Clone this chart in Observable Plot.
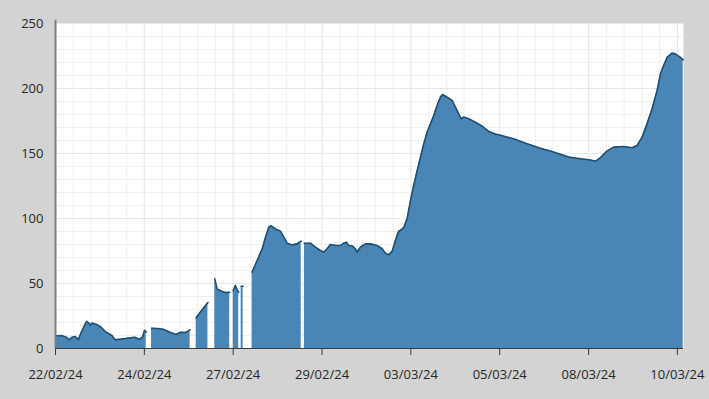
<!DOCTYPE html>
<html>
<head>
<meta charset="utf-8">
<script src="https://cdn.jsdelivr.net/npm/d3@7"></script>
<script src="https://cdn.jsdelivr.net/npm/@observablehq/plot@0.6"></script>
<style>
  html, body { margin: 0; padding: 0; background: #d3d3d3; }
  #chart svg { display: block; background: transparent; }
</style>
</head>
<body>
<div id="chart"></div>
<script>
// hours since 22/02/24 00:00 ; null value = missing data (gap)
const hours = [
  0, 4, 7, 9, 11, 13, 15, 16.5, 19, 20.5, 22, 23, 24, 27, 30, 32, 35, 37, 39, 43, 46, 49, 52, 55, 57, 58.5, 59.5, 61,
  63, 67, 71, 75, 79, 82, 85, 87, 88.3, 90,
  92.3, 96, 100, 102,
  104.5, 106, 109, 111.5, 114.3, 115.5,
  116.6, 118, 119.2, 120.2, 121,
  121.8, 123.1, 125,
  129, 132.3, 135.6, 137.8, 139.9, 141.5, 144.3, 147.6, 149.8, 152, 155.3, 158.5, 161.2, 162.3,
  163.3, 167.3, 170.6, 173.8, 176, 178.2, 180.4, 183.7, 187, 189.1, 190.9, 192.4, 194.6, 196.8, 197.9,
  200.1, 203.4, 206.6, 211, 214.3, 216.5, 218.6, 220.9, 223, 225.2, 226.3, 228.5, 230.7, 232.9, 235,
  237.3, 239.4, 241.6, 243.8, 246, 248.1, 250.4, 252.5, 254, 256.9, 260.2, 262.4, 264.5, 266.1, 267.8,
  271.1, 275.5, 279.9, 284.2, 288.6, 291.9, 300.6, 309.4, 318.1, 324.7, 331.3, 337.8, 344.4, 351, 354.2,
  357.5, 361.9, 366.2, 372.8, 378.3, 381.6, 384.9, 388.1, 391.4, 394.7, 396.9, 399, 401.3, 404.5, 406.7,
  410, 411.8
];
const values = [
  9.8, 10, 8.7, 6.7, 8.7, 9.2, 6.7, 11.3, 17.7, 20.8, 19.5, 17.7, 19.7, 18.5, 16.4, 13.8, 11.3, 10, 6.7, 7.2, 7.7, 8.2, 8.7, 7.2, 8.7, 14, 12.5, null,
  15.6, 15.4, 14.7, 12.5, 10.8, 12.5, 12.3, 13.3, 14.4, null,
  23.6, 29.5, 35.4, null,
  53.6, 45.9, 44, 43, 43.3, null,
  44.6, 48.5, 45, 43.3, null,
  47.9, 47.9, null,
  58.7, 67.7, 76.7, 85.6, 93.3, 94.4, 92, 90.3, 85.6, 81, 79.7, 80.5, 82.6, null,
  81, 81, 78, 75.4, 74, 76.7, 80, 79.2, 79.2, 81, 81.8, 79.2, 79, 76.7, 74,
  78, 80.5, 80.5, 79.2, 76.7, 73.3, 72, 74.9, 83, 90.3, 90.8, 93, 100, 113.8, 125.4,
  137, 147, 157.4, 166.4, 172.8, 179, 187, 193.3, 195.4, 193.3, 190.8, 185.6, 180.5, 176.7, 178,
  176.7, 174, 171, 167, 165, 164, 161.3, 157.5, 154, 152, 149.5, 147, 146, 145, 144,
  146.7, 152, 154.9, 155.4, 154.4, 156.2, 162.6, 172.8, 184.4, 198.5, 211.3, 217.7, 224, 227.2, 226.7,
  224, 222
];
const tickLabels = ["22/02/24", "24/02/24", "27/02/24", "29/02/24", "03/03/24", "05/03/24", "08/03/24", "10/03/24"];
const yTicks = [0, 50, 100, 150, 200, 250];

const data = hours.map((h, i) => ({h, v: values[i]}));
const step = 408 / 7; // equal spacing of the date ticks (hours)
const xTicks = tickLabels.map((_, i) => i * step);
const xMinor = d3.range(0, 36).map(i => i * step / 5);
const yMinor = d3.range(0, 251, 10);

const chart = Plot.plot({
  width: 709,
  height: 399,
  marginLeft: 55,
  marginRight: 26,
  marginTop: 23,
  marginBottom: 51,
  style: {fontFamily: "'Open Sans', sans-serif", fontSize: "13px", color: "#262626", background: "transparent"},
  x: {domain: [0, 412], type: "linear"},
  y: {domain: [0, 250]},
  marks: [
    Plot.frame({fill: "white", stroke: null}),
    Plot.ruleX(xMinor, {stroke: "#f0f0f0", strokeWidth: 1}),
    Plot.ruleY(yMinor, {stroke: "#f0f0f0", strokeWidth: 1}),
    Plot.ruleX(xTicks, {stroke: "#e8e8e8", strokeWidth: 1}),
    Plot.ruleY(yTicks, {stroke: "#e8e8e8", strokeWidth: 1}),
    Plot.areaY(data, {x: "h", y1: 0, y2: "v", fill: "#4a86b5", fillOpacity: 1}),
    Plot.lineY(data, {x: "h", y: "v", stroke: "#1e4f74", strokeWidth: 1.6}),
    Plot.ruleX([0], {y1: 0, y2: 252.5, stroke: "#7f7f7f", strokeWidth: 2}),
    Plot.ruleY([0], {stroke: "#3a3a3a", strokeWidth: 1.2}),
    Plot.axisY({ticks: yTicks, tickSize: 0, tickPadding: 12, label: null, fontSize: 13}),
    Plot.axisX({ticks: xTicks, tickSize: 7, tickPadding: 14, label: null, fontSize: 13, stroke: "#3a3a3a",
      tickFormat: d => tickLabels[Math.round(d / step)]})
  ]
});
document.getElementById("chart").append(chart);
</script>
</body>
</html>
